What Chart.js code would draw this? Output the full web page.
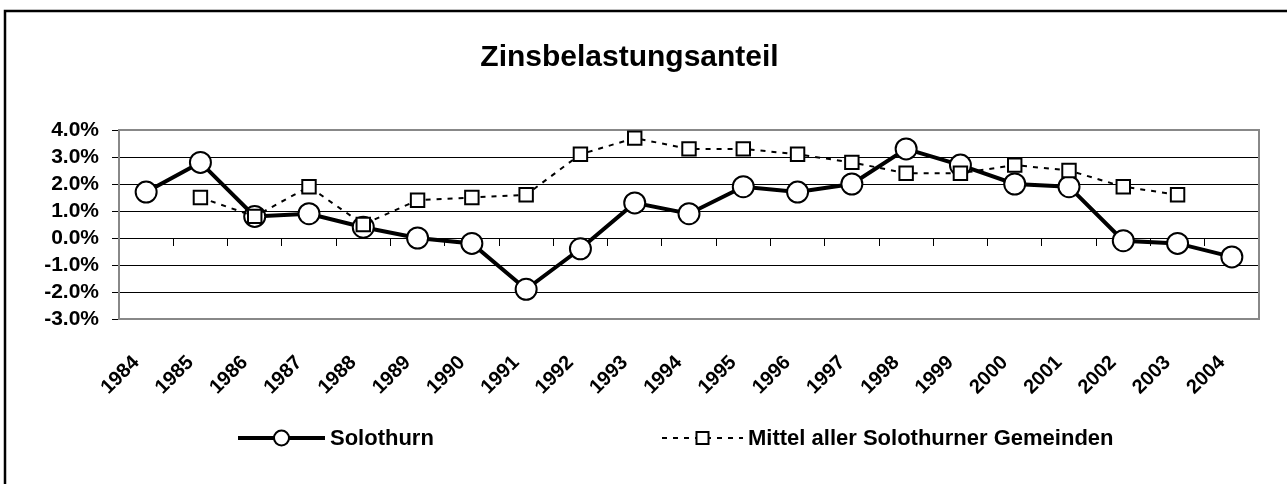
<!DOCTYPE html>
<html>
<head>
<meta charset="utf-8">
<script src="https://cdn.jsdelivr.net/npm/chart.js@4/dist/chart.umd.min.js"></script>
<style>
  html, body { margin: 0; padding: 0; background: #fff; }
  #wrap { width: 1287px; height: 484px; position: relative; }
</style>
</head>
<body>
<div id="wrap"><canvas id="zinsChart"></canvas></div>
<script>
'use strict';
// values in percent
const years = ['1984','1985','1986','1987','1988','1989','1990','1991','1992','1993','1994',
  '1995','1996','1997','1998','1999','2000','2001','2002','2003','2004'];
const solothurn = [1.7, 2.8, 0.8, 0.9, 0.4, 0.0, -0.2, -1.9, -0.4, 1.3, 0.9,
  1.9, 1.7, 2.0, 3.3, 2.7, 2.0, 1.9, -0.1, -0.2, -0.7];
const mittel = [null, 1.5, 0.8, 1.9, 0.5, 1.4, 1.5, 1.6, 3.1, 3.7, 3.3,
  3.3, 3.1, 2.8, 2.4, 2.4, 2.7, 2.5, 1.9, 1.6, null];
const seriesNames = ['Solothurn', 'Mittel aller Solothurner Gemeinden'];
const chartTitle = 'Zinsbelastungsanteil';

const FONT = "'Liberation Sans', Arial, Helvetica, sans-serif";

// outer frame + plot border
const framePlugin = {
  id: 'frame',
  beforeDraw(chart) {
    const c = chart.ctx;
    c.save();
    c.fillStyle = '#fff';
    c.fillRect(0, 0, chart.width, chart.height);
    c.strokeStyle = '#000';
    c.lineWidth = 2.5;
    c.beginPath();
    c.moveTo(5, chart.height);
    c.lineTo(5, 11);
    c.lineTo(chart.width, 11);
    c.stroke();
    c.restore();
  },
  beforeDatasetsDraw(chart) {
    const a = chart.chartArea, c = chart.ctx;
    c.save();
    c.strokeStyle = '#888';
    c.lineWidth = 2;
    c.strokeRect(a.left, a.top, a.right - a.left, a.bottom - a.top);
    c.restore();
  }
};

// legend drawn like the Excel one: line sample with marker in the middle
const legendPlugin = {
  id: 'xlLegend',
  afterDraw(chart) {
    const c = chart.ctx, y = 438;
    const items = [{x0: 238, x1: 325, ds: chart.data.datasets[0]},
                   {x0: 662, x1: 743, ds: chart.data.datasets[1]}];
    c.save();
    items.forEach(it => {
      const ds = it.ds;
      c.strokeStyle = '#000';
      c.lineWidth = ds.borderWidth;
      c.setLineDash(ds.borderDash || []);
      c.beginPath();
      c.moveTo(it.x0, y);
      c.lineTo(it.x1, y);
      c.stroke();
      c.setLineDash([]);
      const mx = (it.x0 + it.x1) / 2;
      c.fillStyle = '#fff';
      c.lineWidth = 2;
      c.beginPath();
      if (ds.pointStyle === 'circle') c.arc(mx, y, 7.5, 0, Math.PI * 2);
      else c.rect(mx - 6, y - 6, 12, 12);
      c.fill();
      c.stroke();
      c.fillStyle = '#000';
      c.font = 'bold 22px ' + FONT;
      c.textAlign = 'left';
      c.textBaseline = 'middle';
      c.fillText(ds.label, it.x1 + 5, y + 1);
    });
    c.restore();
  }
};

new Chart(document.getElementById('zinsChart'), {
  type: 'line',
  data: {
    labels: years,
    datasets: [
      {
        label: seriesNames[0], data: solothurn, order: 2,
        borderColor: '#000', borderWidth: 4, backgroundColor: '#fff',
        pointStyle: 'circle', pointRadius: 10.5, pointBorderWidth: 2,
        pointBackgroundColor: '#fff', pointBorderColor: '#000', tension: 0
      },
      {
        label: seriesNames[1], data: mittel, order: 1,
        borderColor: '#000', borderWidth: 2, borderDash: [5, 6], backgroundColor: '#fff',
        pointStyle: 'rect', pointRadius: 9.5, pointBorderWidth: 2,
        pointBackgroundColor: '#fff', pointBorderColor: '#000', tension: 0
      }
    ]
  },
  options: {
    responsive: true,
    maintainAspectRatio: false,
    animation: false,
    layout: { padding: { left: 0, right: 28, top: 0, bottom: 0 } },
    plugins: {
      legend: { display: false },
      tooltip: { enabled: false },
      title: {
        display: true, text: chartTitle, color: '#000',
        font: { family: FONT, size: 30, weight: 'bold', lineHeight: 1.2 },
        padding: { top: 40, bottom: 54 }
      }
    },
    scales: {
      x: {
        type: 'category', offset: true,
        position: { y: 0 },
        grid: { display: true, offset: true, drawOnChartArea: false, drawTicks: true,
                tickLength: 7, color: '#000', lineWidth: 1 },
        border: { display: true, color: '#000', width: 1 },
        ticks: { display: false }
      },
      xl: {
        type: 'category', labels: years, offset: true, position: 'bottom',
        grid: { display: false, drawTicks: false },
        border: { display: false },
        ticks: {
          autoSkip: false, minRotation: 45, maxRotation: 45, padding: 32, labelOffset: -10,
          color: '#000', font: { family: FONT, size: 20, weight: 'bold' }
        },
        afterFit(scale) { scale.height = 165; }
      },
      y: {
        min: -3, max: 4,
        grid: { color: '#000', lineWidth: 1, drawTicks: true, tickLength: 7, tickColor: '#000' },
        border: { display: false },
        ticks: {
          stepSize: 1, autoSkip: false, padding: 13, color: '#000',
          font: { family: FONT, size: 21, weight: 'bold' },
          callback: v => v.toFixed(1) + '%'
        },
        afterFit(scale) { scale.width = 119; }
      }
    }
  },
  plugins: [framePlugin, legendPlugin]
});
</script>
</body>
</html>
